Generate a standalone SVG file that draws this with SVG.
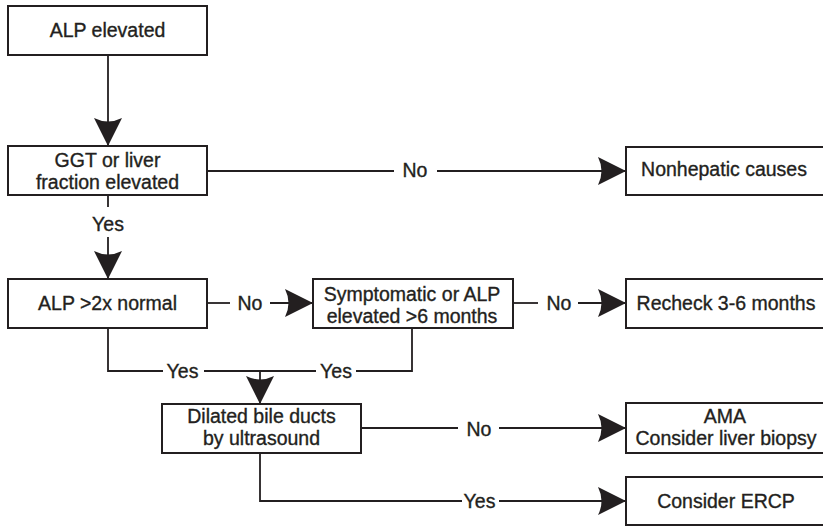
<svg xmlns="http://www.w3.org/2000/svg" width="823" height="526" viewBox="0 0 823 526">
<style>
.box{fill:#fff;stroke:#231f20;stroke-width:2}
.ln{fill:none;stroke:#231f20;stroke-width:1.8}
text{font-family:"Liberation Sans",Arial,sans-serif;font-size:19.5px;fill:#231f20;stroke:#231f20;stroke-width:0.35;text-anchor:middle}
</style>
<defs>
<marker id="ah" markerUnits="userSpaceOnUse" markerWidth="30" markerHeight="30" refX="28" refY="14" orient="auto" viewBox="0 0 30 30">
<path d="M0,0 L28,14 L0,28 Q7,14 0,0 Z" fill="#231f20"/>
</marker>
</defs>
<rect width="823" height="526" fill="#fff"/>
<g id="connectors">
<line class="ln" x1="108" y1="55" x2="108" y2="146" marker-end="url(#ah)"/>
<line class="ln" x1="207" y1="171" x2="394" y2="171"/>
<line class="ln" x1="437" y1="171" x2="626" y2="171" marker-end="url(#ah)"/>
<text x="415" y="177">No</text>
<line class="ln" x1="108" y1="195" x2="108" y2="207"/>
<text x="108" y="230.5">Yes</text>
<line class="ln" x1="108" y1="237" x2="108" y2="279" marker-end="url(#ah)"/>
<line class="ln" x1="207" y1="303" x2="230" y2="303"/>
<text x="250" y="310">No</text>
<line class="ln" x1="270" y1="303" x2="313" y2="303" marker-end="url(#ah)"/>
<line class="ln" x1="513" y1="303" x2="538" y2="303"/>
<text x="559" y="310">No</text>
<line class="ln" x1="578" y1="303" x2="626" y2="303" marker-end="url(#ah)"/>
<polyline class="ln" points="108,328 108,371 163,371"/>
<text x="182.5" y="378">Yes</text>
<line class="ln" x1="204" y1="371" x2="316" y2="371"/>
<text x="336" y="378">Yes</text>
<polyline class="ln" points="356,371 412,371 412,328"/>
<line class="ln" x1="260" y1="371" x2="260" y2="404" marker-end="url(#ah)"/>
<line class="ln" x1="361" y1="428" x2="458" y2="428"/>
<text x="479" y="435.5">No</text>
<line class="ln" x1="499" y1="428" x2="626" y2="428" marker-end="url(#ah)"/>
<polyline class="ln" points="260,453 260,501 462,501"/>
<text x="479.5" y="508">Yes</text>
<line class="ln" x1="499" y1="501" x2="626" y2="501" marker-end="url(#ah)"/>
</g>
<g id="n1"><rect class="box" x="8" y="6" width="199" height="49"/><text x="107.5" y="37">ALP elevated</text></g>
<g id="n2"><rect class="box" x="8" y="146" width="199" height="49"/><text x="107.5" y="167">GGT or liver</text><text x="107.5" y="189">fraction elevated</text></g>
<g id="n3"><rect class="box" x="626" y="147" width="205" height="48"/><text x="724" y="176">Nonhepatic causes</text></g>
<g id="n4"><rect class="box" x="8" y="279" width="199" height="49"/><text x="107.5" y="310">ALP &gt;2x normal</text></g>
<g id="n5"><rect class="box" x="313" y="279" width="200" height="49"/><text x="412" y="300.5">Symptomatic or ALP</text><text x="412" y="322.5">elevated &gt;6 months</text></g>
<g id="n6"><rect class="box" x="626" y="279" width="205" height="49"/><text x="726" y="310">Recheck 3-6 months</text></g>
<g id="n7"><rect class="box" x="162" y="404" width="199" height="49"/><text x="261.5" y="423">Dilated bile ducts</text><text x="261.5" y="445">by ultrasound</text></g>
<g id="n8"><rect class="box" x="626" y="403" width="205" height="50"/><text x="725" y="423">AMA</text><text x="726" y="445">Consider liver biopsy</text></g>
<g id="n9"><rect class="box" x="626" y="477" width="205" height="48"/><text x="726" y="508">Consider ERCP</text></g>
</svg>
